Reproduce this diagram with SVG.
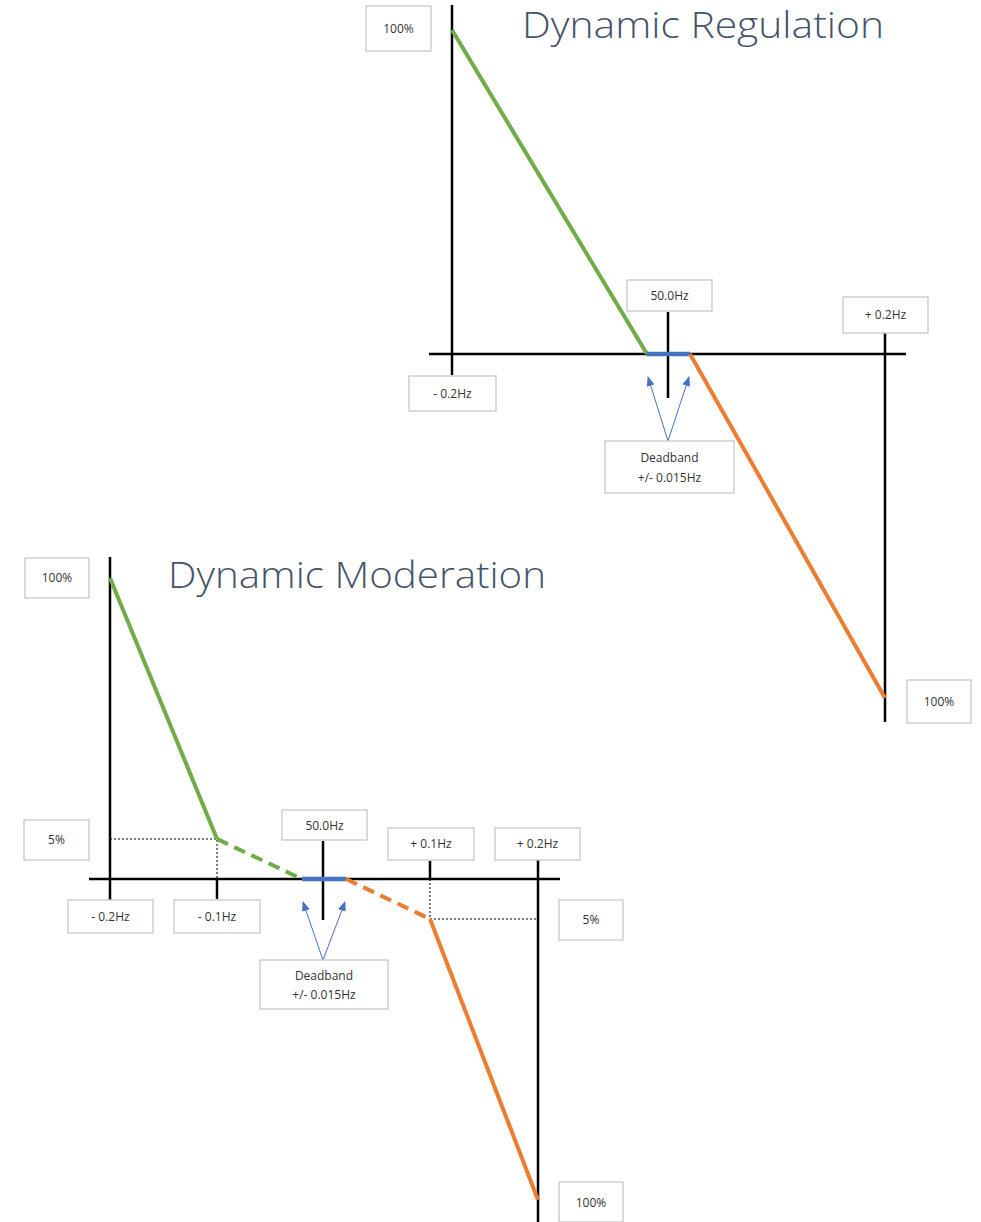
<svg xmlns="http://www.w3.org/2000/svg" width="981" height="1222" viewBox="0 0 981 1222">
<style>
.box{fill:#fff;stroke:#c8c8c8;stroke-width:1.3}
.lbl{font-family:"Open Sans","Liberation Sans",sans-serif;font-size:12px;fill:#333;text-anchor:middle}
.title{font-family:"Open Sans","Liberation Sans",sans-serif;font-weight:300;font-size:37px;fill:#44546A}
.axis{stroke:#000;stroke-width:2.5;fill:none}
.dot{stroke:#000;stroke-width:1;stroke-dasharray:2 2;fill:none}
.g{stroke:#70AD47;stroke-width:4;fill:none}
.o{stroke:#ED7D31;stroke-width:4;fill:none}
.b{stroke:#4472C4;stroke-width:4.5;fill:none}
.dash{stroke-dasharray:12 7}
.arr{stroke:#4472C4;stroke-width:1;fill:none;marker-end:url(#ah)}
</style>
<defs>
<marker id="ah" markerWidth="10" markerHeight="10" refX="9" refY="5" orient="auto" markerUnits="userSpaceOnUse">
<path d="M0,1 L10,5 L0,9 Z" fill="#4472C4"/>
</marker>
</defs>
<rect width="981" height="1222" fill="#fff"/>
<g id="connectors">
<!-- top chart -->
<line class="axis" x1="452" y1="5" x2="452" y2="375"/>
<line class="axis" x1="429" y1="354" x2="906" y2="354"/>
<line class="axis" x1="668" y1="312" x2="668" y2="398"/>
<line class="axis" x1="885" y1="333" x2="885" y2="722"/>
<line class="g" x1="452" y1="30" x2="647" y2="354"/>
<line class="b" x1="647" y1="354" x2="690" y2="354"/>
<line class="o" x1="690" y1="354" x2="885" y2="698"/>
<line class="arr" x1="668" y1="441" x2="648" y2="377"/>
<line class="arr" x1="668" y1="441" x2="689" y2="377"/>
<!-- bottom chart -->
<line class="axis" x1="110" y1="557" x2="110" y2="900"/>
<line class="axis" x1="89" y1="879" x2="560" y2="879"/>
<line class="axis" x1="217" y1="879" x2="217" y2="899"/>
<line class="axis" x1="323" y1="841" x2="323" y2="920"/>
<line class="axis" x1="430" y1="861" x2="430" y2="879"/>
<line class="axis" x1="538" y1="860" x2="538" y2="1222"/>
<polyline class="dot" points="110,839 217,839 217,879"/>
<polyline class="dot" points="430,879 430,919 537,919"/>
<line class="g" x1="110" y1="578" x2="217" y2="839"/>
<line class="g dash" x1="217" y1="839" x2="302" y2="879"/>
<line class="b" x1="302" y1="879" x2="346" y2="879"/>
<line class="o dash" x1="346" y1="879" x2="430" y2="919"/>
<line class="o" x1="430" y1="919" x2="538" y2="1200"/>
<line class="arr" x1="323" y1="960" x2="303" y2="902"/>
<line class="arr" x1="323" y1="960" x2="345" y2="902"/>
</g>
<g id="title-regulation"><text class="title" x="522" y="38" textLength="362" lengthAdjust="spacingAndGlyphs">Dynamic Regulation</text></g>
<g id="title-moderation"><text class="title" x="168" y="588" textLength="378" lengthAdjust="spacingAndGlyphs">Dynamic Moderation</text></g>
<g id="r-100-top"><rect class="box" x="366" y="6" width="65" height="45"/><text class="lbl" x="398.5" y="33">100%</text></g>
<g id="r-50hz"><rect class="box" x="627" y="280" width="85" height="31"/><text class="lbl" x="669.5" y="300">50.0Hz</text></g>
<g id="r-plus02"><rect class="box" x="843" y="297" width="85" height="36"/><text class="lbl" x="885.5" y="319">+ 0.2Hz</text></g>
<g id="r-minus02"><rect class="box" x="409" y="376" width="87" height="35"/><text class="lbl" x="452.5" y="398">- 0.2Hz</text></g>
<g id="r-deadband"><rect class="box" x="605" y="441" width="129" height="52"/><text class="lbl" x="669.5" y="462">Deadband</text><text class="lbl" x="669.5" y="482">+/- 0.015Hz</text></g>
<g id="r-100-bottom"><rect class="box" x="907" y="680" width="64" height="43"/><text class="lbl" x="939" y="706">100%</text></g>
<g id="m-100-top"><rect class="box" x="25" y="558" width="64" height="40"/><text class="lbl" x="57" y="582">100%</text></g>
<g id="m-5-left"><rect class="box" x="24" y="820" width="65" height="40"/><text class="lbl" x="56.5" y="844">5%</text></g>
<g id="m-50hz"><rect class="box" x="282" y="810" width="85" height="30"/><text class="lbl" x="324.5" y="830">50.0Hz</text></g>
<g id="m-plus01"><rect class="box" x="388" y="828" width="86" height="32"/><text class="lbl" x="431" y="848">+ 0.1Hz</text></g>
<g id="m-plus02"><rect class="box" x="495" y="828" width="85" height="32"/><text class="lbl" x="537.5" y="848">+ 0.2Hz</text></g>
<g id="m-minus02"><rect class="box" x="68" y="900" width="85" height="33"/><text class="lbl" x="110.5" y="921">- 0.2Hz</text></g>
<g id="m-minus01"><rect class="box" x="174" y="900" width="86" height="33"/><text class="lbl" x="217" y="921">- 0.1Hz</text></g>
<g id="m-5-right"><rect class="box" x="559" y="900" width="64" height="40"/><text class="lbl" x="591" y="924">5%</text></g>
<g id="m-deadband"><rect class="box" x="260" y="960" width="128" height="49"/><text class="lbl" x="324" y="980">Deadband</text><text class="lbl" x="324" y="999">+/- 0.015Hz</text></g>
<g id="m-100-bottom"><rect class="box" x="559" y="1182" width="64" height="40"/><text class="lbl" x="591" y="1207">100%</text></g>
</svg>
